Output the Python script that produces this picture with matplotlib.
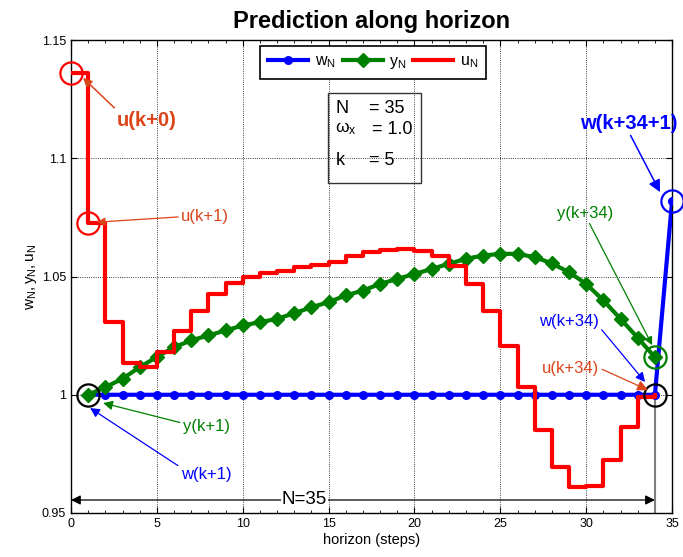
import numpy as np
import matplotlib
matplotlib.use("Agg")
import matplotlib.pyplot as plt
from matplotlib.patches import Rectangle
from matplotlib.ticker import MultipleLocator

plt.rcParams['font.family'] = ['Liberation Sans', 'DejaVu Sans']
plt.rcParams['mathtext.fontset'] = 'custom'
plt.rcParams['mathtext.rm'] = 'Liberation Sans'
plt.rcParams['mathtext.it'] = 'Liberation Sans'

# ---- data ----
u_steps = list(range(0, 35))
u_vals = [1.136, 1.0725, 1.0306, 1.0134, 1.0116, 1.018, 1.0271, 1.0356, 1.0427, 1.0472,
          1.050, 1.0514, 1.0525, 1.054, 1.055, 1.056, 1.0589, 1.0603, 1.0613, 1.0617,
          1.0607, 1.0589, 1.0546, 1.0469, 1.0356, 1.0208, 1.0032, 0.9849, 0.9694, 0.9610,
          0.9613, 0.9723, 0.9863, 0.9990, 1.0]
w_steps = list(range(1, 36))
w_vals = [1.0] * 34 + [1.082]
y_steps = list(range(1, 35))
y_vals = [1.0, 1.0032, 1.0068, 1.0117, 1.016, 1.0201, 1.023, 1.0251, 1.0272, 1.0293,
          1.0307, 1.0321, 1.0345, 1.037, 1.0392, 1.042, 1.0441, 1.0469, 1.049, 1.0511,
          1.0532, 1.0554, 1.0575, 1.0589, 1.0596, 1.0596, 1.0582, 1.0556, 1.0518, 1.0469,
          1.0399, 1.0321, 1.0241, 1.0159]
N = 35
omega_x = 1.0
k = 5

RED = '#ff0000'
ORANGE = '#dc4419'
GREEN = '#008000'
BLUE = '#0000ff'

fig = plt.figure(figsize=(6.83, 5.57), dpi=100)
ax = fig.add_axes([0.104, 0.079, 0.880, 0.849])

lw_, = ax.plot(w_steps, w_vals, '-o', color=BLUE, lw=3, ms=5.5, label=r'$\mathregular{w_N}$', zorder=3)
ly_, = ax.plot(y_steps, y_vals, '-D', color=GREEN, lw=3, ms=7, label=r'$\mathregular{y_N}$', zorder=4)
lu_, = ax.step(u_steps, u_vals, where='post', color=RED, lw=3, label=r'$\mathregular{u_N}$', zorder=5)

ax.set_xlim(0, 35)
ax.set_ylim(0.95, 1.15)
ax.xaxis.set_major_locator(MultipleLocator(5))
ax.xaxis.set_minor_locator(MultipleLocator(1))
ax.set_yticks([0.95, 1.0, 1.05, 1.1, 1.15])
ax.set_yticklabels(['0.95', '1', '1.05', '1.1', '1.15'])
ax.tick_params(which='both', direction='in', top=True, right=True, labelsize=9)
ax.tick_params(which='major', length=4)
ax.tick_params(which='minor', length=2.5)
ax.grid(True, which='major', color='black', linestyle=':', linewidth=0.6)
for s in ax.spines.values():
    s.set_linewidth(1.0)

ax.set_title('Prediction along horizon', fontsize=17, fontweight='bold', pad=9)
ax.set_xlabel('horizon (steps)', fontsize=10.5, labelpad=2)
ax.set_ylabel(r'$\mathregular{w_N,y_N,u_N}$', fontsize=11, labelpad=2)

leg = ax.legend(handles=[lw_, ly_, lu_], loc='upper center', bbox_to_anchor=(0.5025, 0.988),
                ncol=3, fancybox=False, edgecolor='black', framealpha=1, fontsize=11.5,
                handlelength=2.5, columnspacing=0.45, handletextpad=0.4, borderpad=0.5,
                borderaxespad=0)
leg.get_frame().set_linewidth(1.2)

# parameter box
ax.add_patch(Rectangle((0.428, 0.698), 0.154, 0.190, transform=ax.transAxes,
                       fill=False, edgecolor='#333333', lw=1.0, zorder=6))
ax.text(0.44, 0.855, 'N', transform=ax.transAxes, fontsize=13, va='center')
ax.text(0.495, 0.855, '= %d' % N, transform=ax.transAxes, fontsize=13, va='center')
ax.text(0.44, 0.812, r'$\omega_{\mathregular{x}}$', transform=ax.transAxes, fontsize=12.5, va='center')
ax.text(0.50, 0.812, '= %.1f' % omega_x, transform=ax.transAxes, fontsize=13, va='center')
ax.text(0.44, 0.745, 'k', transform=ax.transAxes, fontsize=13, va='center')
ax.text(0.495, 0.745, '= %d' % k, transform=ax.transAxes, fontsize=13, va='center')

# circles
circ = dict(ms=16, mfc='none', mew=1.6, zorder=7, clip_on=False)
ax.plot(u_steps[0], u_vals[0], 'o', mec=RED, **circ)
ax.plot(u_steps[1], u_vals[1], 'o', mec=RED, **circ)
ax.plot(y_steps[0], y_vals[0], 'o', mec='black', **circ)
ax.plot(w_steps[33], w_vals[33], 'o', mec='black', **circ)
ax.plot(y_steps[-1], y_vals[-1], 'o', mec=GREEN, **circ)
ax.plot(w_steps[-1], w_vals[-1], 'o', mec=BLUE, **circ)

# vertical gray line at end of horizon
ax.plot([34, 34], [0.95, 1.0], color='gray', lw=1.5, zorder=2)

# annotations
def ann(txt, xy, xytext, color, fs, bold=False, relpos=(0, 0.5), head=10):
    ax.annotate(txt, xy=xy, xytext=xytext, color=color, fontsize=fs,
                fontweight='bold' if bold else 'normal', ha='center', va='center',
                arrowprops=dict(arrowstyle='-|>', color=color, lw=0.9 if not bold else 1.1,
                                mutation_scale=head, relpos=relpos, shrinkA=0, shrinkB=0),
                zorder=8, annotation_clip=False)

ann('u(k+0)', (0.70, 1.134), (4.43, 1.1162), ORANGE, 14.5, True, relpos=(0, 1.0), head=13)
ann('u(k+1)', (1.51, 1.073), (7.8, 1.0756), ORANGE, 12, relpos=(0, 0.45), head=12)
ann('y(k+1)', (1.87, 0.9965), (7.86, 0.9864), GREEN, 12, relpos=(0, 0.75), head=14)
ann('w(k+1)', (1.11, 0.9944), (7.86, 0.9661), BLUE, 12, relpos=(0, 1.0), head=14)
ann('w(k+34+1)', (34.3, 1.0857), (32.5, 1.1149), BLUE, 14.5, True, relpos=(0.5, 0.0), head=18)
ann('y(k+34)', (33.84, 1.021), (29.94, 1.0768), GREEN, 12, relpos=(0.55, 0.0), head=12)
ann('w(k+34)', (33.43, 1.0054), (29.0, 1.0308), BLUE, 12, relpos=(1.0, 0.2), head=14)
ann('u(k+34)', (33.6, 1.002), (29.1, 1.0113), ORANGE, 12, relpos=(1.0, 0.5), head=16)

# horizon arrow
ax.annotate('', xy=(0, 0.9555), xytext=(34, 0.9555),
            arrowprops=dict(arrowstyle='<|-|>', color='black', lw=0.9, mutation_scale=14,
                            shrinkA=0, shrinkB=0), zorder=6)
ax.text(13.6, 0.9557, 'N=%d' % N, fontsize=13.5, ha='center', va='center', zorder=7,
        bbox=dict(facecolor='white', edgecolor='none', pad=0.5))

fig.savefig('out.png', dpi=100)
